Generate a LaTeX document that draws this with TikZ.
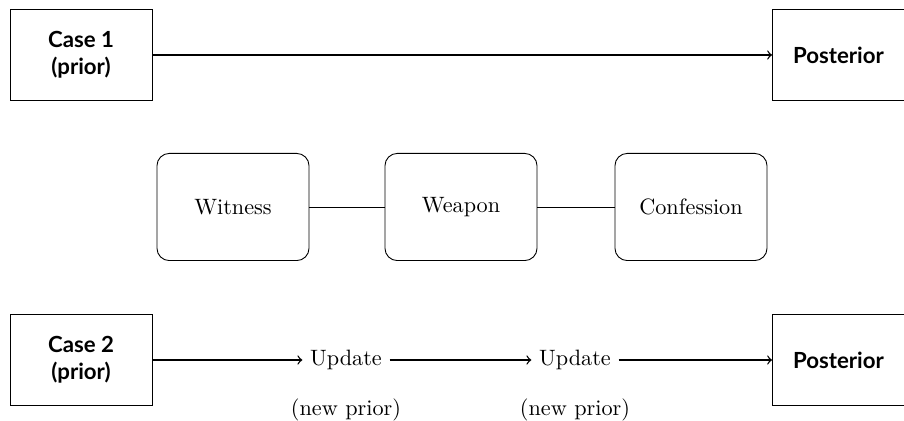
\documentclass[tikz,border=0pt]{standalone}
\usepackage{fontspec}
\setsansfont{Lato}
\begin{document}
\begin{tikzpicture}[x=0.45pt,y=-0.45pt,
    casebox/.style={draw, align=center, font=\sffamily\bfseries,
        minimum width=63.9pt, minimum height=41pt, inner sep=2pt},
    postbox/.style={casebox, minimum width=59.4pt},
    evidence/.style={draw, rounded corners=5.5pt,
        minimum width=68.4pt, minimum height=48.2pt},
    flow/.style={->, semithick}]
    \useasboundingbox (0,0) rectangle (904,421);

    % top row: everything at once
    \node[casebox] (case1) at (81,55) {Case 1\\(prior)};
    \node[postbox] (post1) at (838.5,55) {Posterior};
    \draw[flow] (case1) -- (post1);

    % the evidence
    \node[evidence] (witness) at (233,207) {Witness};
    \node[evidence] (weapon) at (461,207) {Weapon};
    \node[evidence] (confession) at (691,207) {Confession};
    \draw (witness) -- (weapon);
    \draw (weapon) -- (confession);

    % bottom row: one piece at a time
    \node[casebox] (case2) at (81,360) {Case 2\\(prior)};
    \node (update1) at (346,360) {Update};
    \node (update2) at (575,360) {Update};
    \node[postbox] (post2) at (838.5,360) {Posterior};
    \node (new1) at (346,410) {(new prior)};
    \node (new2) at (575,410) {(new prior)};
    \draw[flow] (case2) -- (update1);
    \draw[flow] (update1) -- (update2);
    \draw[flow] (update2) -- (post2);
\end{tikzpicture}
\end{document}
